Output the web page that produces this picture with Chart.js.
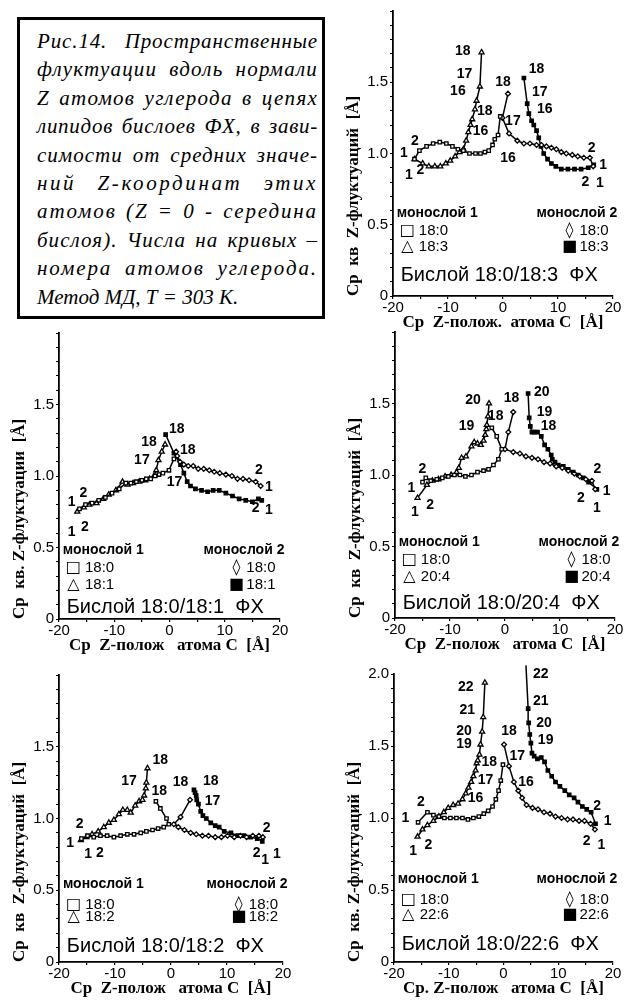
<!DOCTYPE html>
<html lang="ru">
<head>
<meta charset="utf-8">
<title>Рис.14</title>
<script src="https://cdn.jsdelivr.net/npm/chart.js@4.4.1/dist/chart.umd.min.js"></script>
<style>
  html, body { margin: 0; padding: 0; background: #fff; overflow: hidden; }
  body { position: relative; width: 624px; height: 1002px; }
  canvas { position: absolute; }
  #caption {
    position: absolute; left: 17px; top: 17px; width: 308px; height: 302px;
    box-sizing: border-box; border: 3px solid #000; padding: 7px 4px 0 17px;
    font: italic 21px "Liberation Serif", "DejaVu Serif", serif; line-height: 28.4px; color: #000;
  }
  #caption div { text-align: left; white-space: nowrap; }
  #caption div.j { text-align: justify; text-align-last: justify; white-space: normal; }
</style>
</head>
<body>
<div id="caption">
  <div><span>Рис.14. Пространственные</span></div>
  <div><span>флуктуации вдоль нормали</span></div>
  <div><span>Z атомов углерода в цепях</span></div>
  <div><span>липидов бислоев ФХ, в зави-</span></div>
  <div><span>симости от средних значе-</span></div>
  <div><span>ний Z-координат этих</span></div>
  <div><span>атомов (Z = 0 - середина</span></div>
  <div><span>бислоя). Числа на кривых –</span></div>
  <div><span>номера атомов углерода.</span></div>
  <div class="last"><span>Метод МД, Т = 303 К.</span></div>
</div>
<canvas id="tr"></canvas>
<canvas id="ml"></canvas>
<canvas id="mr"></canvas>
<canvas id="bl"></canvas>
<canvas id="br"></canvas>
<script>
// each series: [mean Z, rms Z-fluctuation] for carbons 1..N
// Sq = monolayer 1 18:0, Tri = monolayer 1 unsaturated,
// Dia = monolayer 2 18:0, Fill = monolayer 2 unsaturated

// Бислой 18:0/18:3
const trSq = [[-16.1,0.96],[-15.2,1.02],[-13.9,1.05],[-12.7,1.07],[-11.5,1.08],[-10.3,1.07],[-9.2,1.05],[-8.2,1.03],[-7.2,1.02],[-6.1,1.0],[-5.0,1.0],[-4.1,1.0],[-3.3,1.01],[-2.6,1.02],[-1.9,1.06],[-1.5,1.1],[-0.9,1.13],[-0.5,1.26]];
const trTri = [[-16.1,0.96],[-14.6,0.93],[-13.5,0.91],[-12.4,0.91],[-11.4,0.91],[-10.4,0.93],[-9.6,0.95],[-8.7,0.98],[-7.9,1.01],[-7.2,1.03],[-6.7,1.09],[-6.3,1.15],[-5.9,1.2],[-5.6,1.24],[-5.1,1.31],[-4.8,1.37],[-4.2,1.47],[-3.9,1.71]];
const trDia = [[16.4,0.91],[15.8,0.97],[14.7,0.97],[13.6,0.98],[12.6,0.99],[11.5,1.0],[10.6,1.01],[9.7,1.03],[8.8,1.04],[7.9,1.05],[7.0,1.06],[6.1,1.06],[4.9,1.07],[3.8,1.07],[2.6,1.09],[1.1,1.14],[-0.1,1.25],[0.9,1.42]];
const trFill = [[16.5,0.92],[15.5,0.9],[14.2,0.89],[13.0,0.89],[11.8,0.89],[10.6,0.89],[9.6,0.91],[8.8,0.93],[8.1,0.96],[7.4,1.0],[6.9,1.05],[6.5,1.11],[6.1,1.16],[5.6,1.2],[5.2,1.23],[4.7,1.28],[4.4,1.35],[3.8,1.53]];
const trNums = [['1',-18.0,1.0],['2',-16.0,1.09],['1',-17.1,0.845],['2',-15.0,0.885],
  ['18',-7.3,1.72],['17',-7.0,1.56],['16',-8.2,1.44],['18',-3.3,1.3],['16',-4.1,1.16],
  ['18',0.0,1.5],['17',1.8,1.23],['16',0.9,0.97],['18',6.1,1.59],['17',6.7,1.43],['16',7.6,1.31],
  ['2',16.1,1.04],['1',18.2,0.92],['2',15.0,0.8],['1',17.6,0.79]];

// Бислой 18:0/18:1
const mlSq = [[-16.3,0.77],[-15.2,0.8],[-14.0,0.81],[-12.8,0.83],[-11.6,0.85],[-10.4,0.88],[-9.1,0.91],[-7.9,0.95],[-7.0,0.95],[-6.0,0.96],[-5.0,0.97],[-4.2,0.98],[-3.4,0.98],[-2.6,1.0],[-1.9,1.01],[-1.2,1.02],[-0.1,1.04],[0.8,1.12]];
const mlTri = [[-16.7,0.75],[-15.5,0.78],[-14.5,0.8],[-13.2,0.81],[-12.0,0.84],[-11.0,0.87],[-9.7,0.9],[-8.5,0.96],[-7.6,0.94],[-6.6,0.95],[-5.5,0.96],[-4.4,0.97],[-3.6,0.98],[-2.8,1.0],[-2.4,1.04],[-2.0,1.11],[-1.4,1.17],[-0.8,1.22]];
const mlDia = [[16.5,0.93],[15.6,0.96],[14.4,0.97],[13.3,0.98],[12.3,0.98],[11.3,1.0],[10.2,1.01],[9.1,1.02],[8.1,1.03],[7.2,1.04],[6.2,1.05],[5.2,1.05],[4.3,1.07],[3.4,1.07],[2.6,1.08],[1.9,1.1],[1.4,1.14],[1.2,1.17]];
const mlFill = [[16.7,0.83],[16.1,0.84],[15.0,0.82],[13.8,0.83],[12.6,0.84],[11.4,0.86],[10.2,0.88],[9.0,0.9],[7.9,0.9],[6.9,0.89],[5.8,0.9],[4.7,0.91],[3.8,0.93],[3.2,0.96],[2.6,1.02],[2.0,1.08],[0.8,1.16],[-0.7,1.29]];
const mlNums = [['1',-17.7,0.82],['2',-15.6,0.88],['1',-17.7,0.61],['2',-15.3,0.64],
  ['18',-3.7,1.24],['17',-5.0,1.11],['18',1.3,1.33],['18',3.3,1.18],['17',0.9,0.96],
  ['2',16.2,1.04],['1',18.0,0.925],['2',15.6,0.774],['1',18.0,0.762]];

// Бислой 18:0/20:4
const mrSq = [[-15.0,0.95],[-14.4,0.98],[-13.5,0.96],[-12.4,0.97],[-11.4,0.98],[-10.3,0.99],[-9.2,1.0],[-8.2,1.0],[-7.2,0.99],[-6.1,1.0],[-5.0,1.02],[-3.9,1.03],[-3.0,1.04],[-2.1,1.07],[-1.2,1.11],[-0.6,1.18],[-1.5,1.27],[-2.4,1.33]];
const mrTri = [[-15.9,0.84],[-14.2,0.93],[-13.2,0.96],[-12.1,0.97],[-10.9,0.99],[-9.8,1.0],[-8.8,1.02],[-8.4,1.05],[-7.9,1.12],[-7.1,1.13],[-6.1,1.2],[-5.6,1.23],[-5.0,1.22],[-4.4,1.21],[-3.9,1.24],[-3.6,1.28],[-3.4,1.32],[-3.3,1.35],[-3.1,1.41],[-2.9,1.5]];
const mrDia = [[16.4,0.9],[15.8,0.96],[14.7,0.97],[13.6,0.99],[12.6,1.01],[11.5,1.03],[10.4,1.05],[9.3,1.06],[8.2,1.08],[7.1,1.09],[6.0,1.11],[4.9,1.12],[3.8,1.13],[2.7,1.15],[1.5,1.16],[0.0,1.18],[0.6,1.3],[1.5,1.44]];
const mrFill = [[16.7,0.9],[15.2,0.95],[14.2,0.98],[13.3,1.0],[12.4,1.02],[11.5,1.04],[10.6,1.06],[9.7,1.07],[9.1,1.09],[8.6,1.11],[8.4,1.14],[7.8,1.18],[7.2,1.21],[6.6,1.27],[5.9,1.3],[5.3,1.3],[4.9,1.3],[4.6,1.34],[4.4,1.4],[4.2,1.57]];
const mrNums = [['2',-15.0,1.04],['1',-17.0,0.91],['1',-16.4,0.74],['2',-13.6,0.79],
  ['20',-5.8,1.52],['19',-7.0,1.34],['18',-1.7,1.41],['18',1.2,1.54],
  ['20',6.7,1.58],['19',7.2,1.44],['18',7.9,1.34],
  ['2',16.8,1.04],['1',18.5,0.89],['2',13.8,0.84],['1',16.7,0.77]];

// Бислой 18:0/18:2
const blSq = [[-16.0,0.86],[-14.9,0.88],[-13.8,0.87],[-12.6,0.88],[-11.4,0.88],[-10.2,0.87],[-9.0,0.88],[-7.8,0.89],[-6.6,0.89],[-5.4,0.9],[-4.4,0.91],[-3.3,0.92],[-2.3,0.93],[-1.3,0.94],[-0.4,0.96],[-0.8,1.0],[-1.9,1.07],[-2.7,1.12]];
const blTri = [[-16.1,0.85],[-15.1,0.87],[-14.1,0.89],[-13.0,0.91],[-12.0,0.94],[-11.1,0.97],[-10.2,0.99],[-9.3,1.03],[-8.6,1.06],[-7.8,1.06],[-7.2,1.04],[-6.4,1.09],[-5.7,1.12],[-5.1,1.13],[-4.8,1.16],[-4.5,1.21],[-4.4,1.25],[-4.2,1.35]];
const blDia = [[16.4,0.87],[15.7,0.88],[14.6,0.88],[13.5,0.87],[12.4,0.88],[11.3,0.87],[10.1,0.88],[9.0,0.87],[7.9,0.87],[6.7,0.88],[5.6,0.88],[4.5,0.89],[3.5,0.9],[2.4,0.92],[1.3,0.94],[0.5,0.96],[1.7,1.01],[3.4,1.13]];
const blFill = [[16.3,0.84],[15.4,0.86],[14.2,0.87],[13.0,0.88],[11.9,0.88],[10.7,0.9],[9.5,0.91],[8.6,0.94],[7.9,0.95],[7.1,0.97],[6.3,1.0],[5.7,1.02],[5.3,1.05],[4.9,1.1],[4.6,1.13],[4.5,1.16],[4.3,1.18],[4.1,1.2]];
const blNums = [['1',-18.0,0.83],['2',-16.3,0.96],['1',-14.8,0.75],['2',-12.7,0.76],
  ['17',-7.5,1.26],['18',-1.9,1.41],['18',-2.1,1.19],['18',1.7,1.25],['18',7.1,1.26],['17',7.4,1.12],
  ['2',17.1,0.93],['2',15.3,0.76],['1',16.8,0.71],['1',18.9,0.75]];

// Бислой 18:0/22:6
const brSq = [[-15.6,0.97],[-13.9,1.04],[-12.8,1.02],[-11.8,1.01],[-10.8,1.0],[-9.7,1.0],[-8.6,1.0],[-7.5,1.0],[-6.5,0.99],[-5.5,1.0],[-4.5,1.01],[-3.6,1.03],[-2.8,1.05],[-2.0,1.08],[-1.4,1.13],[-0.9,1.19],[-0.5,1.26],[-0.1,1.37]];
const brTri = [[-15.7,0.87],[-14.8,0.92],[-13.9,0.95],[-12.8,0.98],[-11.8,1.01],[-10.9,1.04],[-10.1,1.07],[-9.2,1.09],[-8.3,1.1],[-7.5,1.13],[-6.9,1.17],[-6.4,1.21],[-5.9,1.25],[-5.5,1.29],[-5.1,1.33],[-4.9,1.38],[-4.7,1.4],[-4.4,1.44],[-4.2,1.51],[-3.9,1.6],[-3.7,1.7],[-3.4,1.94]];
const brDia = [[16.7,0.92],[15.9,0.96],[14.8,0.98],[13.8,0.98],[12.7,0.99],[11.7,0.99],[10.6,1.0],[9.5,1.01],[8.5,1.03],[7.4,1.04],[6.3,1.06],[5.3,1.07],[4.2,1.09],[3.4,1.14],[2.7,1.19],[1.9,1.25],[1.0,1.36],[0.1,1.51]];
const brFill = [[16.8,0.96],[16.0,1.04],[15.2,1.06],[14.4,1.08],[13.6,1.11],[12.9,1.14],[12.0,1.16],[11.2,1.19],[10.3,1.22],[9.5,1.25],[8.8,1.29],[8.1,1.33],[7.5,1.39],[6.9,1.42],[6.2,1.41],[5.6,1.43],[5.2,1.45],[5.0,1.52],[4.8,1.58],[4.6,1.66],[4.5,1.76],[4.1,2.06]];
const brNums = [['2',-15.1,1.11],['1',-17.9,1.0],['1',-16.5,0.77],['2',-13.7,0.81],
  ['22',-6.9,1.91],['21',-6.6,1.75],['20',-7.2,1.6],['19',-7.2,1.51],['18',-2.6,1.39],['17',-3.3,1.26],['16',-5.1,1.14],
  ['18',1.0,1.6],['17',2.5,1.43],['16',4.1,1.25],
  ['22',6.8,2.0],['21',6.8,1.81],['20',7.4,1.66],['19',7.7,1.54],
  ['2',17.1,1.08],['1',19.0,0.98],['2',15.2,0.84],['1',17.9,0.81]];

const panels = [
  { id: 'tr', box: [393, 613, 10, 296], series: [trSq, trTri, trDia, trFill], nums: trNums, chain: '18:3',
    yTitle: 'Ср  кв  Z-флуктуаций  [Å]', xTitle: 'Ср  Z-полож.  атома С  [Å]', leg: [0.58, 0.46, 0.345, 0.147], top2: false },
  { id: 'ml', box: [59, 280, 333, 619], series: [mlSq, mlTri, mlDia, mlFill], nums: mlNums, chain: '18:1',
    yTitle: 'Ср  кв. Z-флуктуации  [Å]', xTitle: 'Ср  Z-полож   атома С  [Å]', leg: [0.48, 0.357, 0.238, 0.084], top2: false },
  { id: 'mr', box: [395, 615, 332, 618], series: [mrSq, mrTri, mrDia, mrFill], nums: mrNums, chain: '20:4',
    yTitle: 'Ср  кв  Z-флуктуаций  [Å]', xTitle: 'Ср  Z-полож   атома С  [Å]', leg: [0.53, 0.405, 0.289, 0.1], top2: false },
  { id: 'bl', box: [59, 283, 675, 962], series: [blSq, blTri, blDia, blFill], nums: blNums, chain: '18:2',
    yTitle: 'Ср  кв  Z-флуктуаций  [Å]', xTitle: 'Ср  Z-полож   атома С  [Å]', leg: [0.54, 0.4, 0.317, 0.107], top2: false },
  { id: 'br', box: [394, 613, 674, 962], series: [brSq, brTri, brDia, brFill], nums: brNums, chain: '22:6',
    yTitle: 'Ср  кв. Z-флуктуаций  [Å]', xTitle: 'Ср. Z-полож   атома С  [Å]', leg: [0.573, 0.434, 0.329, 0.119], top2: true }
];

const SANS = '"Liberation Sans", Arial, "DejaVu Sans", sans-serif';
const SERIF = '"Liberation Serif", "Times New Roman", serif';
const SYM = '16px "DejaVu Sans", sans-serif';

// caption: widen each line a bit with letter spacing, then justify
const capW = document.getElementById('caption').clientWidth - 21;
document.querySelectorAll('#caption div').forEach(d => {
  if (d.classList.contains('last')) return;
  const span = d.firstElementChild;
  const w = span.getBoundingClientRect().width;
  const n = span.textContent.length;
  const ls = Math.max(-0.7, Math.min(2.6, (capW * 0.96 - w) / n));
  d.style.letterSpacing = ls.toFixed(2) + 'px';
  d.classList.add('j');
});

// texts placed in data units
const textPlugin = {
  id: 'texts',
  afterDatasetsDraw(chart, args, opts) {
    const { ctx, scales: { x, y } } = chart;
    ctx.save();
    ctx.fillStyle = '#000';
    ctx.textBaseline = 'middle';
    for (const t of opts.items) {
      ctx.font = t.font;
      ctx.textAlign = t.align || 'center';
      ctx.fillText(t.text, x.getPixelForValue(t.x), y.getPixelForValue(t.y));
    }
    ctx.restore();
  }
};

function legendItems(p) {
  const bold = 'bold 14px ' + SANS;
  const reg = '15px ' + SANS;
  return [
    { text: 'монослой 1', x: -19.3, y: p.leg[0], align: 'left', font: bold },
    { text: 'монослой 2', x: 20.8, y: p.leg[0], align: 'right', font: bold },
    { text: '□', x: -17.4, y: p.leg[1], font: SYM },
    { text: '18:0', x: -15.3, y: p.leg[1], align: 'left', font: reg },
    { text: '△', x: -17.4, y: p.leg[2], font: SYM },
    { text: p.chain, x: -15.3, y: p.leg[2], align: 'left', font: reg },
    { text: '◊', x: 12.1, y: p.leg[1], font: SYM },
    { text: '18:0', x: 13.9, y: p.leg[1], align: 'left', font: reg },
    { text: '■', x: 12.1, y: p.leg[2], font: SYM },
    { text: p.chain, x: 13.9, y: p.leg[2], align: 'left', font: reg },
    { text: 'Бислой 18:0/' + p.chain + '  ФХ', x: -18.6, y: p.leg[3], align: 'left', font: '20px ' + SANS }
  ];
}

function ds(points, style, filled) {
  return {
    data: points.map(p => ({ x: p[0], y: p[1] })),
    showLine: true,
    tension: 0,
    clip: false,
    borderColor: '#000',
    borderWidth: 1.5,
    pointStyle: style,
    pointRadius: style === 'triangle' ? 2.9 : 2.4,
    pointBorderWidth: 1.3,
    pointBorderColor: '#000',
    pointBackgroundColor: filled ? '#000' : '#fff'
  };
}

for (const p of panels) {
  const [L, R, T, B] = p.box;
  const padTop = Math.min(12, T);
  const cv = document.getElementById(p.id);
  cv.width = (R - L) + 52 + 9;
  cv.height = (B - T) + padTop + 44;
  cv.style.left = (L - 52) + 'px';
  cv.style.top = (T - padTop) + 'px';

  const items = legendItems(p).concat(
    p.nums.map(n => ({ text: n[0], x: n[1], y: n[2], font: 'bold 14px ' + SANS }))
  );

  new Chart(cv, {
    type: 'scatter',
    data: {
      datasets: [
        ds(p.series[0], 'rect', false),
        ds(p.series[1], 'triangle', false),
        ds(p.series[2], 'rectRot', false),
        ds(p.series[3], 'rect', true)
      ]
    },
    options: {
      responsive: false,
      animation: false,
      events: [],
      layout: { padding: { left: 0, top: padTop, right: 9, bottom: 0 } },
      plugins: { legend: { display: false }, tooltip: { enabled: false }, texts: { items } },
      scales: {
        x: {
          type: 'linear', min: -20, max: 20,
          afterFit(s) { s.height = 44; },
          border: { color: '#000', width: 1.8 },
          grid: { drawOnChartArea: false, color: '#000', tickLength: 3, lineWidth: 1.2 },
          ticks: {
            stepSize: 5, autoSkip: false, maxRotation: 0, padding: 0, color: '#000',
            font: { family: SANS, size: 15 },
            callback: v => (v % 10 === 0 ? String(v) : '')
          },
          title: { display: true, text: p.xTitle, color: '#000', padding: 7,
            font: { family: SERIF, size: 17, weight: 'bold' } }
        },
        y: {
          type: 'linear', min: 0, max: 2,
          afterFit(s) { s.width = 52; },
          border: { color: '#000', width: 1.8 },
          grid: { drawOnChartArea: false, color: '#000', tickLength: 3, lineWidth: 1 },
          ticks: {
            stepSize: 0.1, autoSkip: false, padding: 2, color: '#000',
            font: { family: SANS, size: 15 },
            callback: v => {
              const r = Math.round(v * 10);
              if (r % 5 !== 0) return '';
              if (r === 0) return '0';
              if (r === 20 && !p.top2) return '';
              return (r / 10).toFixed(1);
            }
          },
          title: { display: true, text: p.yTitle, align: 'start', color: '#000', padding: 2,
            font: { family: SERIF, size: 17, weight: 'bold' } }
        }
      }
    },
    plugins: [textPlugin]
  });
}
</script>
</body>
</html>
